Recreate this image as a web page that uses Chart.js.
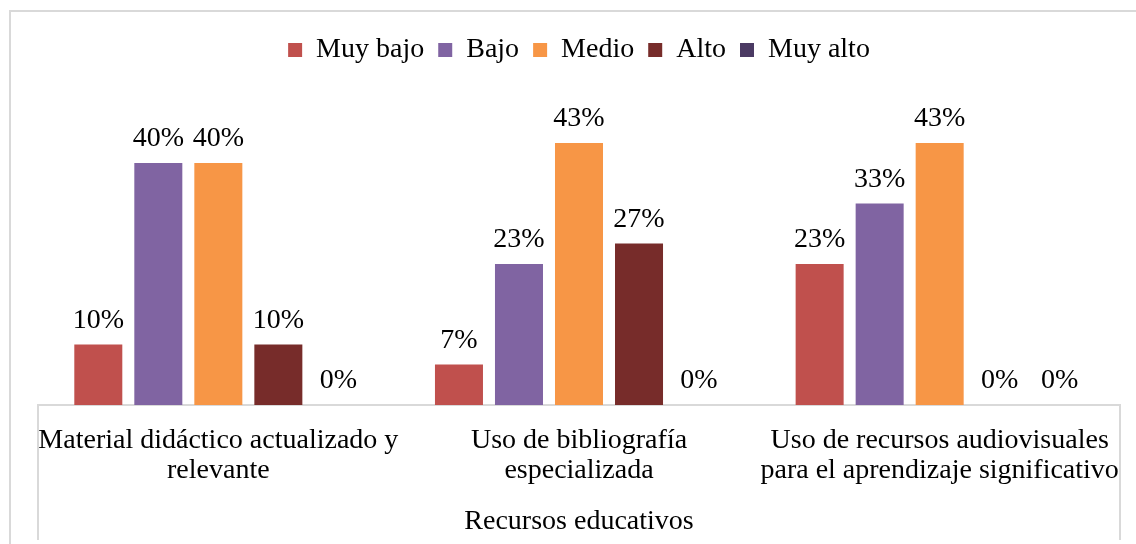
<!DOCTYPE html>
<html>
<head>
<meta charset="utf-8">
<script src="https://cdn.jsdelivr.net/npm/chart.js@4.4.1/dist/chart.umd.min.js"></script>
<style>
    html, body { margin: 0; padding: 0; background: #fff; overflow: hidden; }
    .wrap { position: relative; width: 1136px; height: 544px; }
    .frame { position: absolute; left: 9px; top: 10px; width: 1200px; height: 600px; border: 2px solid #d9d9d9; }
    canvas { position: absolute; left: 0; top: 0; }
</style>
</head>
<body>
<div class="wrap">
    <div class="frame"></div>
    <canvas id="chart" width="1136" height="544"></canvas>
</div>
<script>
const categories = [
    ['Material didáctico actualizado y', 'relevante'],
    ['Uso de bibliografía', 'especializada'],
    ['Uso de recursos audiovisuales', 'para el aprendizaje significativo']
];
const seriesNames = ['Muy bajo', 'Bajo', 'Medio', 'Alto', 'Muy alto'];
const seriesColors = ['#c0504d', '#8064a2', '#f79646', '#772c2a', '#4b3a63'];

// percentages per level, one value per category
const muyBajo = [10, 6.7, 23.3];
const bajo = [40, 23.3, 33.3];
const medio = [40, 43.3, 43.3];
const alto = [10, 26.7, 0];
const muyAlto = [0, 0, 0];

const axisTitle = 'Recursos educativos';
const FONT = "'Liberation Serif', 'Times New Roman', serif";
const FSIZE = 28;

// value labels above each bar
const barLabels = {
    id: 'barLabels',
    afterDatasetsDraw(chart) {
        const ctx = chart.ctx;
        ctx.save();
        ctx.font = `${FSIZE}px ${FONT}`;
        ctx.fillStyle = '#000';
        ctx.textAlign = 'center';
        ctx.textBaseline = 'middle';
        chart.data.datasets.forEach((ds, i) => {
            chart.getDatasetMeta(i).data.forEach((bar, j) => {
                ctx.fillText(Math.round(ds.data[j]) + '%', bar.x, bar.y - 24);
            });
        });
        ctx.restore();
    }
};

// side lines of the category axis, running down to the bottom
const axisSides = {
    id: 'axisSides',
    afterDraw(chart) {
        const ctx = chart.ctx;
        const x = chart.scales.x;
        ctx.save();
        ctx.strokeStyle = '#d9d9d9';
        ctx.lineWidth = 2;
        ctx.beginPath();
        ctx.moveTo(x.left, x.top);
        ctx.lineTo(x.left, chart.height - 4);
        ctx.moveTo(x.right, x.top);
        ctx.lineTo(x.right, chart.height - 4);
        ctx.stroke();
        ctx.restore();
    }
};

const datasets = [muyBajo, bajo, medio, alto, muyAlto].map((vals, i) => ({
    label: seriesNames[i],
    data: vals,
    backgroundColor: seriesColors[i],
    borderWidth: 0,
    barPercentage: 0.8,
    categoryPercentage: 0.832
}));

new Chart(document.getElementById('chart'), {
    type: 'bar',
    data: { labels: categories, datasets: datasets },
    plugins: [barLabels, axisSides],
    options: {
        responsive: false,
        animation: false,
        layout: { padding: { top: 22, left: 38, right: 16, bottom: 0 } },
        scales: {
            x: {
                grid: { display: false },
                border: { color: '#d9d9d9', width: 2 },
                ticks: {
                    color: '#000',
                    font: { family: FONT, size: FSIZE, lineHeight: 1.07 },
                    padding: 13,
                    maxRotation: 0,
                    autoSkip: false
                },
                title: {
                    display: true,
                    text: axisTitle,
                    color: '#000',
                    font: { family: FONT, size: FSIZE },
                    padding: { top: 0, bottom: 6 }
                },
                afterFit: (s) => { s.height = 139; }
            },
            y: {
                display: false,
                min: 0,
                max: 54.7
            }
        },
        plugins: {
            legend: {
                position: 'top',
                labels: {
                    color: '#000',
                    font: { family: FONT, size: FSIZE },
                    boxWidth: 14,
                    boxHeight: 14,
                    padding: 14
                }
            },
            tooltip: { enabled: false }
        }
    }
});
</script>
</body>
</html>
